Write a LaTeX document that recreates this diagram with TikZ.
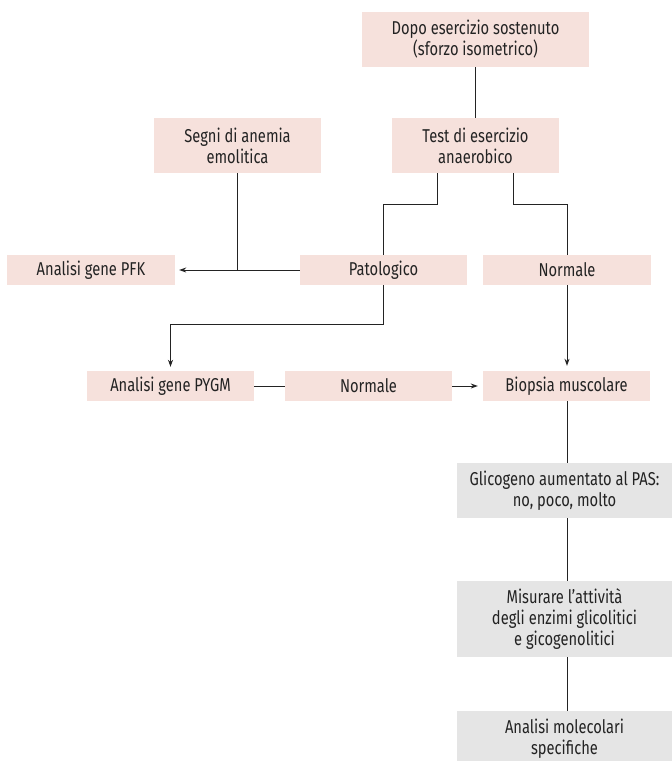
\documentclass[tikz,border=0pt]{standalone}
\usepackage{fontspec}
\setmainfont{Fira Sans}[FakeStretch=0.79]
\usetikzlibrary{arrows.meta,calc}
\definecolor{pinkfill}{RGB}{246,225,220}
\definecolor{greyfill}{RGB}{229,229,229}
\definecolor{ink}{RGB}{35,35,35}
\begin{document}
\begin{tikzpicture}[x=1pt,y=-1pt,
  box/.style={fill=pinkfill,draw=none,align=center,inner sep=0pt,
    text=ink,font=\fontsize{18.6}{21}\selectfont,minimum width=167pt},
  gbox/.style={box,fill=greyfill,minimum width=215pt},
  tall/.style={minimum height=55pt},
  flat/.style={minimum height=30pt},
  link/.style={draw=ink,line width=0.9pt},
  arr/.style={link,-{Stealth[length=7pt,width=5pt]}}]
\useasboundingbox (0,0) rectangle (672,761);

% top chain
\node[box,tall,minimum width=227pt] (dopo) at (475.5,39.5) {Dopo esercizio sostenuto\\(sforzo isometrico)};
\node[box,tall] (test) at (475.5,145.5) {Test di esercizio\\anaerobico};
\node[box,tall] (segni) at (237.5,145.5) {Segni di anemia\\emolitica};

% results of the test
\node[box,flat,minimum width=168pt] (pfk) at (91,270) {Analisi gene PFK};
\node[box,flat] (pato) at (383.5,270) {Patologico};
\node[box,flat,minimum width=168pt] (norm1) at (567,270) {Normale};

% second row
\node[box,flat] (pygm) at (170.5,386) {Analisi gene PYGM};
\node[box,flat] (norm2) at (368.5,386) {Normale};
\node[box,flat] (biop) at (566.5,386) {Biopsia muscolare};

% grey column
\node[gbox,tall] (glic) at (564.5,490.5) {Glicogeno aumentato al PAS:\\no, poco, molto};
\node[gbox,minimum height=76pt] (misu) at (564.5,619) {Misurare l’attività\\degli enzimi glicolitici\\e gicogenolitici};
\node[gbox,tall] (molec) at (564.5,738.5) {Analisi molecolari\\specifiche};

% helper coordinates for the elbows
\coordinate (tl) at ([xshift=-38.5pt]test.south);
\coordinate (tr) at ([xshift=37.5pt]test.south);
\coordinate (tly) at ($(tl)+(0,31)$);
\coordinate (try) at ($(tr)+(0,31)$);
\coordinate (py) at ($(pato.south)+(0,39)$);
\coordinate (join) at (segni.south |- pfk.east);
\coordinate (bx) at ([xshift=0.5pt]biop.south);

% connectors
\draw[link] (dopo.south) -- (test.north);
\draw[link] (segni.south) -- (join);
\draw[arr,shorten >=4pt] (pato.west) -- (pfk.east);
\draw[link] (tl) -- (tly) -| (pato.north);
\draw[link] (tr) -- (try) -| (norm1.north);
\draw[arr,shorten >=4pt] (pato.south) -- (py) -| (pygm.north);
\draw[link] (pygm.east) -- (norm2.west);
\draw[arr,shorten >=5pt] (norm2.east) -- (biop.west);
\draw[arr,shorten >=5pt] (norm1.south) -- (norm1.south |- biop.north);
\draw[link] (bx) -- (bx |- glic.north);
\draw[link] (bx |- glic.south) -- (bx |- misu.north);
\draw[link] (bx |- misu.south) -- (bx |- molec.north);
\end{tikzpicture}
\end{document}
